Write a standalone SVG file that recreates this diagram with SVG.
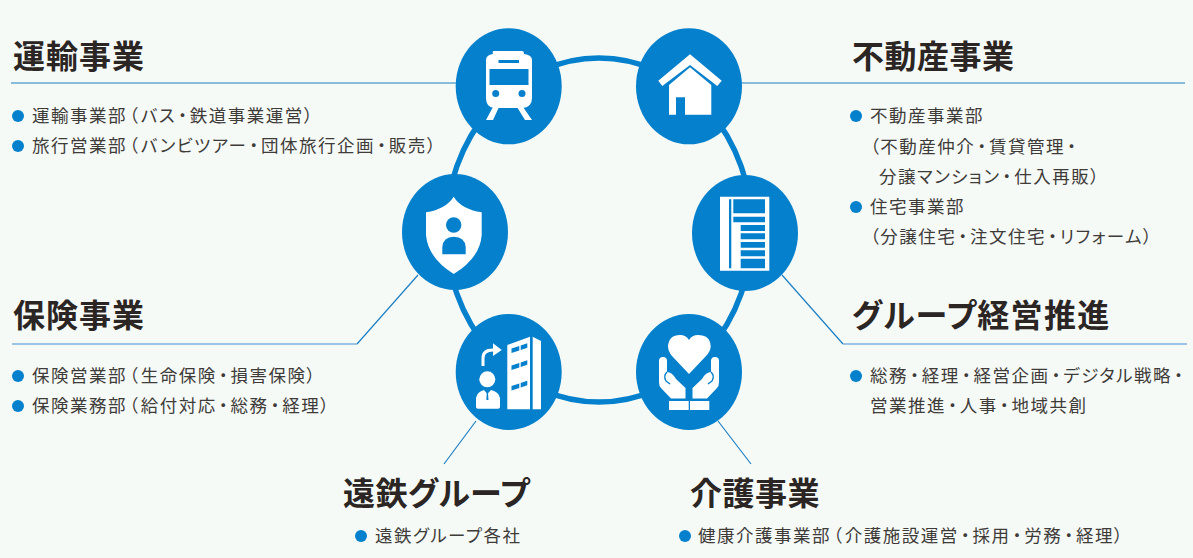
<svg xmlns="http://www.w3.org/2000/svg" width="1193" height="558" viewBox="0 0 1193 558">
<style>
text{font-family:"Noto Sans CJK JP","Noto Sans CJK SC",sans-serif;fill:#2a2523;font-feature-settings:"palt"}
.t{font-size:32px;font-weight:700;letter-spacing:.5px;fill:#2b2523}
.w1{letter-spacing:1px}
.w2{letter-spacing:1.3px}
.b{font-size:17.5px;letter-spacing:1.5px;fill:#3f3b39}
.p{letter-spacing:3px}
.d{fill:#0580cc}
.n{fill:#0580cc}
.w{fill:#fff}
.l{fill:none;stroke:#1d7fc4;stroke-width:1.2}
.s{fill:none;stroke:#7fb3de;stroke-width:1.6}
</style>
<rect width="1193" height="558" fill="#f5faf7"/>
<g id="connectors">
<ellipse cx="599" cy="230" rx="153" ry="172" fill="none" stroke="#0580cc" stroke-width="5.5"/>
<path class="l" d="M11 83H460M735 83H1185M418 275L357 344M782 275L843 344M476 421L444 464M718 421L751 464"/>
<path class="s" d="M12 344H357M843 344H1187"/>
</g>
<g id="node-train">
<ellipse class="n" cx="508.700" cy="86.300" rx="53" ry="58"/>
<path class="w" d="M494 51H522Q524 51 524 54Q532 55 532 60V98Q532 107 523 108H494Q486 107 486 98V60Q486 55 493 54Q492 51 494 51Z"/>
<path class="d" d="M489.500 69H528.500V85H489.500ZM498.500 60H519V63H498.500Z"/>
<circle class="d" cx="495.700" cy="93.500" r="3.500"/><circle class="d" cx="522" cy="93.500" r="3.500"/>
<path class="w" d="M493 107H499L493 120H486ZM517 107H523L532 120H525Z"/>
</g>
<g id="node-house">
<ellipse class="n" cx="689" cy="86.300" rx="53" ry="58"/>
<path class="w" d="M690 54.300L721.700 80.700L717.300 86L690 65L662.300 86L658.300 80.700Z"/>
<path class="w" fill-rule="evenodd" d="M690 67.300L711.300 85V114.700H669V85ZM676 97.300V114.700H685V97.300Z"/>
</g>
<g id="node-shield">
<ellipse class="n" cx="455" cy="232" rx="53" ry="58"/>
<path class="w" d="M453.700 196.700Q461 209 481.700 212.300V235Q480 258 453.700 274Q428 258 426 235V212.300Q446 209 453.700 196.700Z"/>
<circle class="d" cx="453.700" cy="225" r="7.700"/>
<path class="d" d="M442.300 254.300V247Q443 237 453.700 236.700Q465 237 465.700 247V254.300Z"/>
</g>
<g id="node-document">
<ellipse class="n" cx="745" cy="233" rx="53" ry="58"/>
<path class="w" d="M720 196.700H769.300V270.700H720Z"/>
<path class="d" d="M729 199.300H731.300V268.300H729ZM733.300 199.300H765V213.300H733.300ZM733.300 216.700H765V222.300H733.300ZM740.700 225H765V231H740.700ZM740.700 233.300H765V239.300H740.700ZM740.700 242H765V247.700H740.700ZM740.700 250.300H765V256.300H740.700ZM740.700 258.700H765V268.300H740.700Z"/>
</g>
<g id="node-group">
<ellipse class="n" cx="508.700" cy="372" rx="53" ry="58"/>
<path class="w" d="M507.300 345L530 336.700V409.300H507.300ZM532.700 336.700L541 341V409.300H532.700Z"/>
<path class="d" d="M511.500 348.500L519.300 346V350.500L511.500 353ZM520.700 345.500L527.300 343.300V347.800L520.700 350ZM511.500 365.500L519.300 363V367.500L511.500 370ZM520.700 362.500L527.300 360.300V364.800L520.700 367ZM511.500 386L519.300 383.500V388L511.500 390.500ZM520.700 383L527.300 380.800V385.300L520.700 387.500Z"/>
<path d="M483 366V358Q483 350 493 350" fill="none" stroke="#fff" stroke-width="3"/>
<path class="w" d="M493 343.300L501.700 350L493 356Z"/>
<circle class="w" cx="487.300" cy="379.300" r="8"/>
<path class="w" d="M476 407V398Q477 392 484 390L487.300 394L491 390Q499 392 500 398V407Q500 408.700 498 408.700H478Q476 408.700 476 407Z"/>
<path class="d" d="M486.800 393H488L488.500 400H486.300Z"/>
</g>
<g id="node-hands">
<ellipse class="n" cx="689" cy="372" rx="53" ry="58"/>
<path class="w" d="M689 374L672 356Q668 351 668 346Q669 335 680 335Q686 335 689 340Q692 335 698 335Q710 335 710.700 346Q710.700 351 706 356Z"/>
<path class="w" d="M659 361Q659 357 663 357Q667 357 667 361V372Q672 372 676 379L685.500 388V398.500H671L661 388Q659 386 659 382Z"/>
<path class="w" d="M719 361Q719 357 715 357Q711 357 711 361V372Q706 372 702 379L692.500 388V398.500H707L717 388Q719 386 719 382Z"/>
<path class="w" d="M669 401H688.700V410H669ZM690 401H709.300V410H690Z"/>
<path d="M667 372Q663 376 666 381L670 384M711 372Q715 376 712 381L708 384" fill="none" stroke="#0580cc" stroke-width="1.3"/>
</g>
<g id="text-transport">
<text class="t w1" x="13" y="68">運輸事業</text>
<circle class="d" cx="18" cy="116" r="6"/><circle class="d" cx="18" cy="146" r="6"/>
<text class="b" x="32" y="122">運輸事業部<tspan dx="2" class="p">（</tspan>バス<tspan dx="2" class="p">・</tspan>鉄道事業運営）</text>
<text class="b" x="32" y="152">旅行営業部<tspan dx="2" class="p">（</tspan>バンビツアー<tspan dx="2" class="p">・</tspan>団体旅行企画<tspan dx="2" class="p">・</tspan>販売）</text>
</g>
<g id="text-realestate">
<text class="t" x="852" y="68">不動産事業</text>
<circle class="d" cx="856" cy="116" r="6"/><circle class="d" cx="856" cy="207" r="6"/>
<text class="b" x="870" y="122">不動産事業部</text>
<text class="b" x="870" y="153">（不動産仲介<tspan dx="2" class="p">・</tspan>賃貸管理<tspan dx="2" class="p">・</tspan></text>
<text class="b" x="879" y="183">分譲マンション<tspan dx="2" class="p">・</tspan>仕入再販）</text>
<text class="b" x="870" y="213">住宅事業部</text>
<text class="b" x="870" y="243">（分譲住宅<tspan dx="2" class="p">・</tspan>注文住宅<tspan dx="2" class="p">・</tspan>リフォーム）</text>
</g>
<g id="text-insurance">
<text class="t w1" x="13" y="327">保険事業</text>
<circle class="d" cx="18" cy="376" r="6"/><circle class="d" cx="18" cy="406" r="6"/>
<text class="b" x="32" y="382">保険営業部<tspan dx="2" class="p">（</tspan>生命保険<tspan dx="2" class="p">・</tspan>損害保険）</text>
<text class="b" x="32" y="412">保険業務部<tspan dx="2" class="p">（</tspan>給付対応<tspan dx="2" class="p">・</tspan>総務<tspan dx="2" class="p">・</tspan>経理）</text>
</g>
<g id="text-management">
<text class="t w2" x="852" y="327">グループ経営推進</text>
<circle class="d" cx="856" cy="376" r="6"/>
<text class="b" x="870" y="382">総務<tspan dx="2" class="p">・</tspan>経理<tspan dx="2" class="p">・</tspan>経営企画<tspan dx="2" class="p">・</tspan>デジタル戦略<tspan dx="2" class="p">・</tspan></text>
<text class="b" x="870" y="412">営業推進<tspan dx="2" class="p">・</tspan>人事<tspan dx="2" class="p">・</tspan>地域共創</text>
</g>
<g id="text-group">
<text class="t" x="343" y="505">遠鉄グループ</text>
<circle class="d" cx="361" cy="536" r="6"/>
<text class="b" x="375" y="542">遠鉄グループ各社</text>
</g>
<g id="text-care">
<text class="t" x="690" y="505">介護事業</text>
<circle class="d" cx="685" cy="536" r="6"/>
<text class="b" x="698" y="542">健康介護事業部<tspan dx="2" class="p">（</tspan>介護施設運営<tspan dx="2" class="p">・</tspan>採用<tspan dx="2" class="p">・</tspan>労務<tspan dx="2" class="p">・</tspan>経理）</text>
</g>
</svg>
